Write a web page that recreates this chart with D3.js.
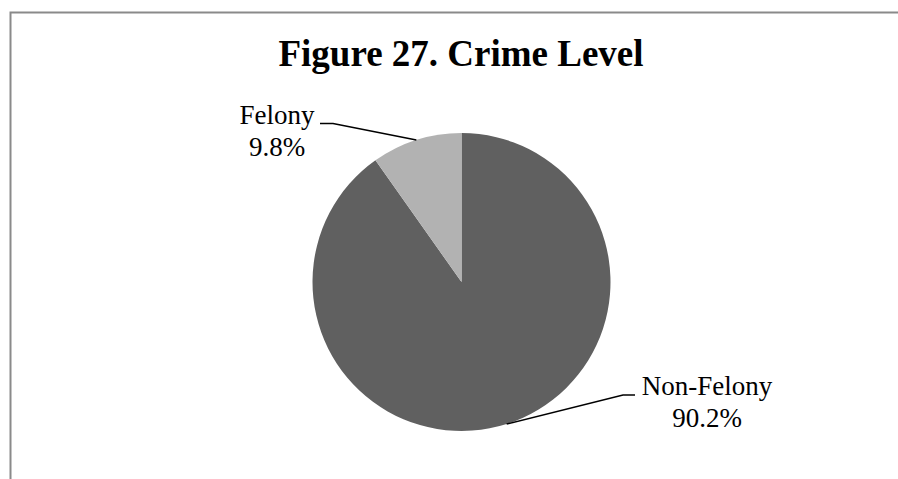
<!DOCTYPE html>
<html>
<head>
<meta charset="utf-8">
<script src="https://cdn.jsdelivr.net/npm/d3@7"></script>
<style>
  html, body { margin: 0; padding: 0; background: #fff; }
  svg { display: block; }
  .serif { font-family: "Liberation Serif", "Times New Roman", serif; }
</style>
</head>
<body>
<svg id="chart" width="898" height="479"></svg>
<script>
// Crime level breakdown
const categories = ["Non-Felony", "Felony"];
const values = [90.2, 9.8];
const labels = ["90.2%", "9.8%"];
const colors = ["#606060", "#b2b2b2"];

const W = 898, H = 479;
const svg = d3.select("#chart");

// outer frame (runs past the right and bottom edges)
svg.append("rect")
  .attr("x", 10.5).attr("y", 12.5)
  .attr("width", 1000).attr("height", 600)
  .attr("fill", "none")
  .attr("stroke", "#8a8a8a")
  .attr("stroke-width", 2);

svg.append("text")
  .attr("class", "serif")
  .attr("x", 461).attr("y", 66)
  .attr("text-anchor", "middle")
  .attr("font-weight", "bold")
  .attr("font-size", 37)
  .attr("fill", "#000")
  .text("Figure 27. Crime Level");

const cx = 461.5, cy = 282, r = 149;
const g = svg.append("g").attr("transform", `translate(${cx},${cy})`);

const data = categories.map((c, i) => ({ name: c, value: values[i], label: labels[i], color: colors[i] }));
const pie = d3.pie().value(d => d.value).sort(null).startAngle(0).endAngle(2 * Math.PI);
const arcs = pie(data);
const arc = d3.arc().innerRadius(0).outerRadius(r);

g.selectAll("path.slice")
  .data(arcs)
  .join("path")
  .attr("class", "slice")
  .attr("d", arc)
  .attr("fill", d => d.data.color);

// label placement: text anchor point and horizontal tail end of the leader
const labelPos = {
  "Non-Felony": { tx: 707, ty: 395, elbowX: 623, tailX: 635, lineY: 395 },
  "Felony": { tx: 277, ty: 124, elbowX: 333, tailX: 320, lineY: 123.5 }
};

arcs.forEach(a => {
  const p = labelPos[a.data.name];
  const mid = (a.startAngle + a.endAngle) / 2;
  const ex = cx + r * Math.sin(mid), ey = cy - r * Math.cos(mid);
  svg.append("polyline")
    .attr("points", `${ex},${ey} ${p.elbowX},${p.lineY} ${p.tailX},${p.lineY}`)
    .attr("fill", "none")
    .attr("stroke", "#000")
    .attr("stroke-width", 1.5);
  const t = svg.append("text")
    .attr("class", "serif")
    .attr("x", p.tx).attr("y", p.ty)
    .attr("text-anchor", "middle")
    .attr("font-size", 27)
    .attr("fill", "#000");
  t.append("tspan").attr("class", "serif").attr("x", p.tx).attr("y", p.ty).text(a.data.name);
  t.append("tspan").attr("class", "serif").attr("x", p.tx).attr("y", p.ty + 32).text(a.data.label);
});
</script>
</body>
</html>
